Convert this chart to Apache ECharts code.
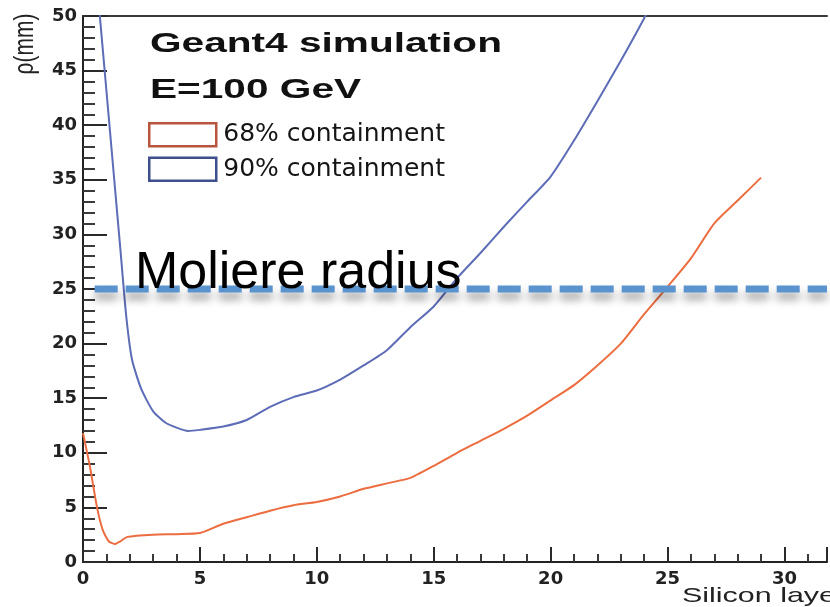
<!DOCTYPE html>
<html>
<head>
<meta charset="utf-8">
<script src="https://cdn.jsdelivr.net/npm/echarts@6/dist/echarts.min.js"></script>
<style>
  html, body { margin: 0; padding: 0; background: #ffffff; }
  #chart { width: 830px; height: 607px; }
</style>
</head>
<body>
<div id="chart"></div>
<script>
// ---- data ----
const layers68 = [0, 0.3, 0.6, 0.85, 1.1, 1.35, 1.6, 1.9, 3, 4, 5, 6, 7, 8, 9, 10, 11, 12, 13, 14, 15, 16, 17, 18, 19, 20, 21, 22, 23, 24, 25, 26, 27, 28, 29];
const rho68    = [11.8, 8.7, 5.0, 2.9, 1.9, 1.65, 1.9, 2.3, 2.5, 2.55, 2.65, 3.5, 4.1, 4.7, 5.2, 5.5, 6.0, 6.7, 7.2, 7.7, 8.8, 10.0, 11.1, 12.2, 13.4, 14.8, 16.2, 18.0, 20.0, 22.7, 25.2, 27.8, 31.0, 33.1, 35.2];

const layers90 = [0.5, 0.72, 1.0, 1.3, 1.6, 1.85, 2.1, 2.5, 3.0, 3.5, 4.0, 4.5, 5, 6, 7, 8, 9, 10, 11, 12, 13, 14, 15, 16, 17, 18, 19, 20, 21, 22, 23, 24, 24.5];
const rho90    = [55.3, 50, 43.2, 35.9, 28.6, 22.5, 18.5, 15.8, 13.8, 12.8, 12.3, 12.0, 12.1, 12.4, 13.0, 14.2, 15.1, 15.7, 16.7, 18.0, 19.4, 21.5, 23.4, 26.0, 28.3, 30.7, 33.0, 35.3, 38.6, 42.2, 45.9, 49.8, 52.0];

const moliereX = [0.5, 31.82];
const moliereY = [25, 25];

const seriesNames = ['68% containment', '90% containment'];
const xRange = [0, 31.82];
const yRange = [0, 50];
const majorStep = 5;

const toPairs = (xs, ys) => xs.map((x, i) => [x, ys[i]]);

const chart = echarts.init(document.getElementById('chart'), null, { renderer: 'canvas' });

const tickFont = { fontFamily: 'DejaVu Sans', fontWeight: 'bold', fontSize: 18, color: '#222' };

function axisBase(tickLen, minorLen) {
  return {
    type: 'value', interval: majorStep,
    axisLine: { show: true, onZero: false, lineStyle: { color: '#222', width: 2 } },
    axisTick: { show: true, inside: true, length: tickLen, lineStyle: { color: '#2a2a2a', width: 2 } },
    minorTick: { show: true, splitNumber: 5, length: minorLen, lineStyle: { color: '#3a3a3a', width: 2 } },
    splitLine: { show: false },
    minorSplitLine: { show: false }
  };
}

chart.setOption({
  backgroundColor: '#ffffff',
  animation: false,
  grid: { left: 83, right: -3, top: 16, bottom: 45, show: false },
  legend: {
    orient: 'vertical',
    left: 143, top: 117,
    icon: 'rect',
    itemWidth: 67, itemHeight: 23, itemGap: 9,
    data: [
      { name: seriesNames[0], itemStyle: { color: '#ffffff', borderColor: '#b8553e', borderWidth: 2.5 } },
      { name: seriesNames[1], itemStyle: { color: '#ffffff', borderColor: '#3e4f8e', borderWidth: 2.5 } }
    ],
    textStyle: { fontFamily: 'DejaVu Sans', fontSize: 25, color: '#151515', lineHeight: 23, padding: [0, 0, 0, 2] },
    selectedMode: false
  },
  xAxis: [
    Object.assign(axisBase(15, 8), {
      position: 'bottom', min: xRange[0], max: xRange[1],
      axisLabel: Object.assign({ margin: 8, formatter: v => (v % majorStep === 0 ? String(v) : '') }, tickFont)
    }),
    {
      type: 'value', position: 'top', min: xRange[0], max: xRange[1], interval: majorStep,
      axisLine: { show: true, onZero: false, lineStyle: { color: '#3a3a3a', width: 2 } },
      axisTick: { show: false }, axisLabel: { show: false }, splitLine: { show: false }
    }
  ],
  yAxis: Object.assign(axisBase(24, 12), {
    min: yRange[0], max: yRange[1],
    axisLabel: Object.assign({ margin: 6 }, tickFont)
  }),
  series: [
    {
      name: seriesNames[0], type: 'line', data: toPairs(layers68, rho68),
      showSymbol: false, smooth: 0.2, clip: true,
      lineStyle: { color: '#ec6d3f', width: 2 }, itemStyle: { color: '#ec6d3f' }, z: 2
    },
    {
      name: seriesNames[1], type: 'line', data: toPairs(layers90, rho90),
      showSymbol: false, smooth: 0.2, clip: true,
      lineStyle: { color: '#5d6cb6', width: 2 }, itemStyle: { color: '#5d6cb6' }, z: 2
    },
    {
      name: 'Moliere radius', type: 'line', data: toPairs(moliereX, moliereY),
      showSymbol: false, silent: true, clip: false, z: 5,
      lineStyle: {
        color: '#5b93cf', width: 7, type: [23, 8],
        shadowColor: 'rgba(0,0,0,0.38)', shadowBlur: 8, shadowOffsetY: 7
      }
    }
  ],
  graphic: [
    {
      type: 'text', x: 150, y: 44, scaleX: 1.45, z: 10,
      style: { text: 'Geant4 simulation', fontFamily: 'Liberation Sans', fontWeight: 'bold', fontSize: 28, fill: '#111',
               align: 'left', verticalAlign: 'middle', textAlign: 'left', textVerticalAlign: 'middle' }
    },
    {
      type: 'text', x: 150, y: 90, scaleX: 1.45, z: 10,
      style: { text: 'E=100 GeV', fontFamily: 'Liberation Sans', fontWeight: 'bold', fontSize: 28, fill: '#111',
               align: 'left', verticalAlign: 'middle', textAlign: 'left', textVerticalAlign: 'middle' }
    },
    {
      type: 'text', x: 135, y: 274, z: 20,
      style: { text: 'Moliere radius', fontFamily: 'Liberation Sans', fontSize: 52, fill: '#000',
               align: 'left', verticalAlign: 'middle', textAlign: 'left', textVerticalAlign: 'middle' }
    },
    {
      type: 'text', x: 682, y: 596, scaleX: 1.45, z: 10,
      style: { text: 'Silicon layer', fontFamily: 'Liberation Sans', fontSize: 21, fill: '#222',
               align: 'left', verticalAlign: 'middle', textAlign: 'left', textVerticalAlign: 'middle' }
    },
    {
      type: 'text', x: 25, y: 44, rotation: Math.PI / 2, scaleY: 1.3, z: 10,
      style: { text: 'ρ(mm)', fontFamily: 'Liberation Sans', fontSize: 21, fill: '#222',
               align: 'center', verticalAlign: 'middle', textAlign: 'center', textVerticalAlign: 'middle' }
    }
  ]
});
</script>
</body>
</html>
